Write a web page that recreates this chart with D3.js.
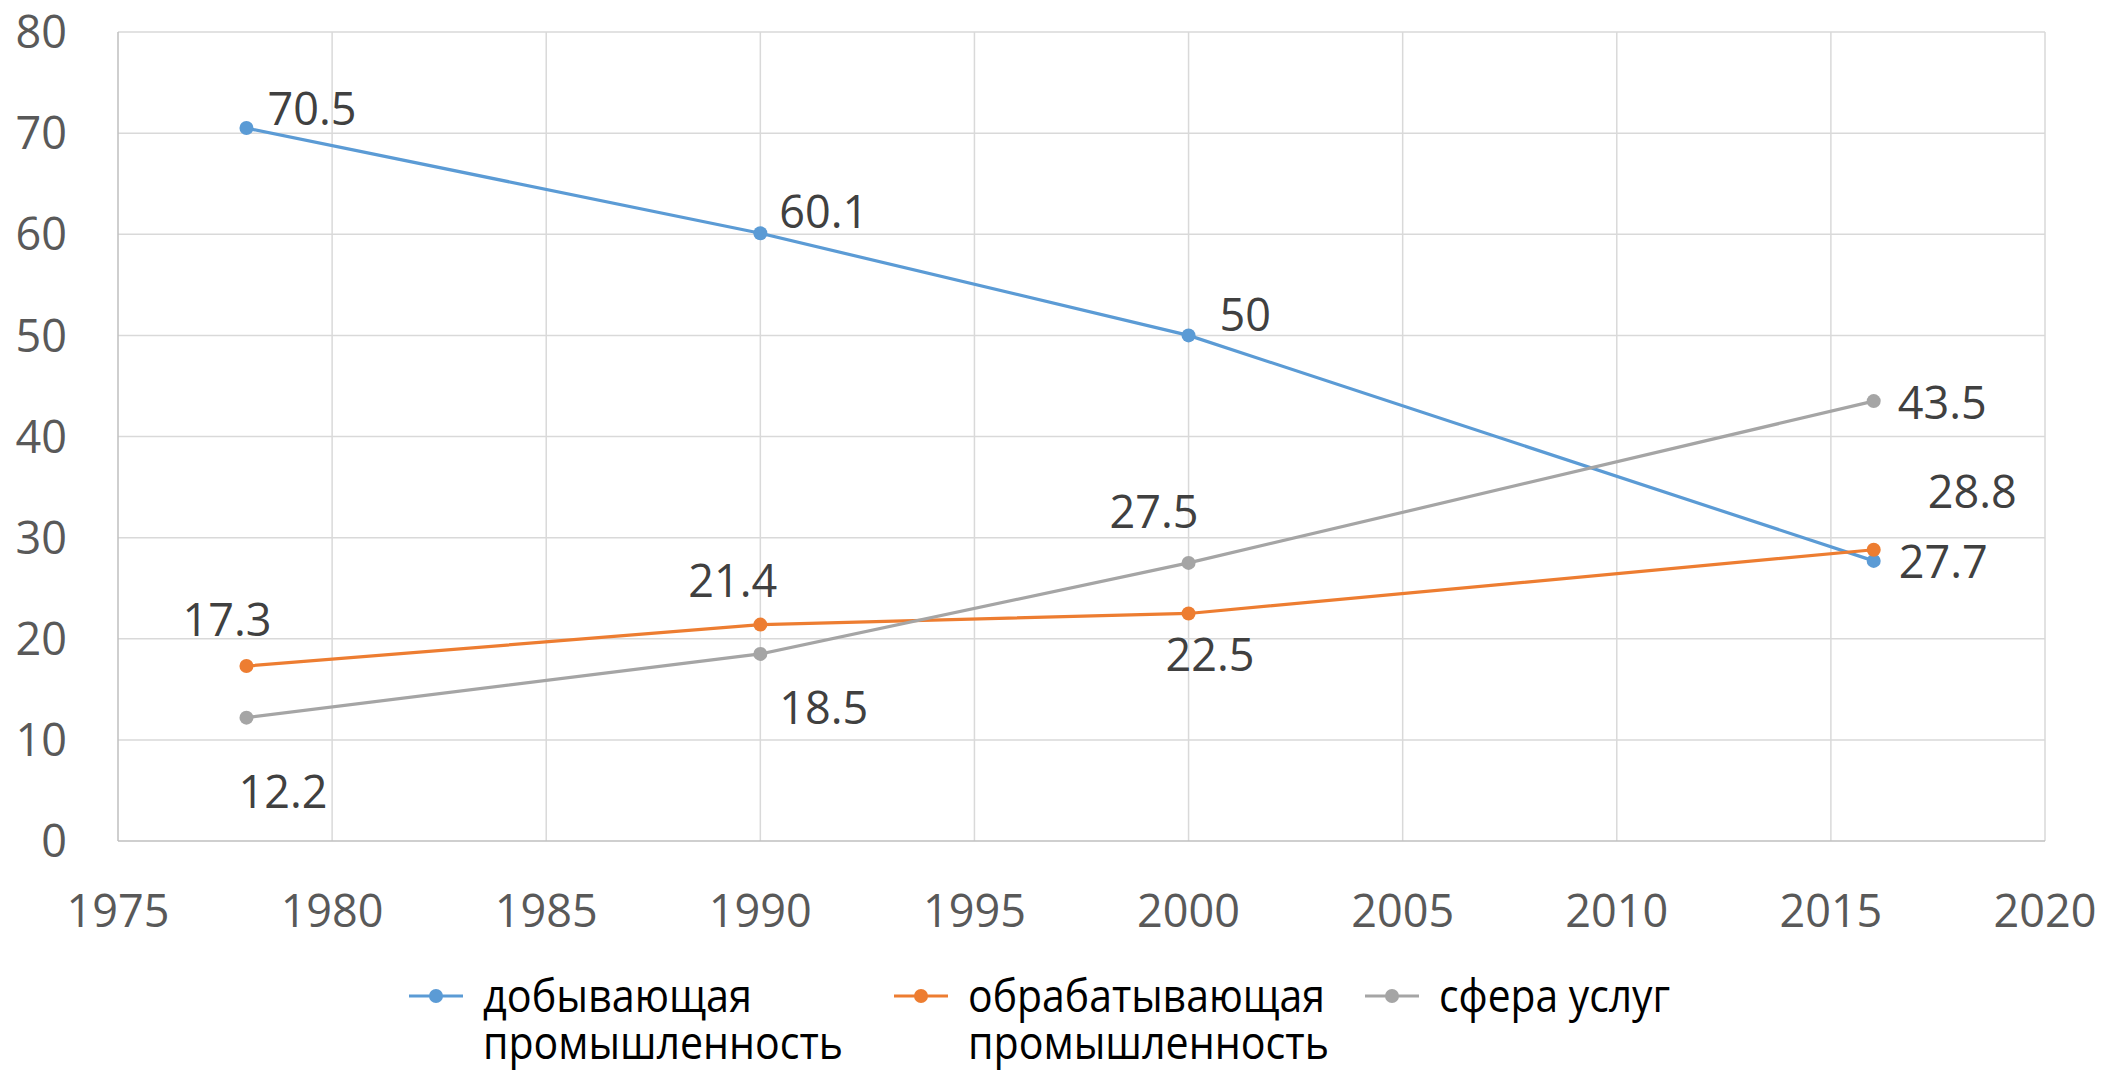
<!DOCTYPE html>
<html><head><meta charset="utf-8">
<script src="https://cdn.jsdelivr.net/npm/d3@7"></script>
<style>
html,body{margin:0;padding:0;background:#fff;}
svg{display:block;}
text{font-family:"Open Sans","Noto Sans",sans-serif;}
</style></head>
<body>
<svg id="chart" width="2107" height="1072"></svg>
<script>
// ---- data ----
const years = [1978, 1990, 2000, 2016];
const seriesNames = ["добывающая промышленность", "обрабатывающая промышленность", "сфера услуг"];
const extractive = [70.5, 60.1, 50, 27.7];
const manufacturing = [17.3, 21.4, 22.5, 28.8];
const services = [12.2, 18.5, 27.5, 43.5];
const xTicks = [1975, 1980, 1985, 1990, 1995, 2000, 2005, 2010, 2015, 2020];
const yTicks = [0, 10, 20, 30, 40, 50, 60, 70, 80];
const legendLines = [["добывающая", "промышленность"], ["обрабатывающая", "промышленность"], ["сфера услуг"]];

// ---- layout / style (kept separate from data) ----
const colors = ["#5B9BD5", "#ED7D31", "#A5A5A5"];
// label offsets relative to point: [dx (left edge), dy (baseline)]
const labelOffsets = [
  [[21, -3], [19, -5], [31, -4], [25, 17]],
  [[-64, -30], [-72, -28], [-23, 58], [54, -42]],
  [[-8, 90], [19, 70], [-79, -35], [24, 18]]
];
const legendX = [409, 894, 1365];
const legendTextWidths = [[269, 360], [357, 361], [231]];

(function () {
const svg = d3.select("#chart");
const pLeft = 118, pRight = 2045, pTop = 32, pBottom = 841;
const x = d3.scaleLinear().domain([1975, 2020]).range([pLeft, pRight]);
const y = d3.scaleLinear().domain([0, 80]).range([pBottom, pTop]);

// gridlines
svg.append("g").selectAll("line").data(yTicks.filter(d => d > 0)).join("line")
  .attr("x1", pLeft).attr("x2", pRight).attr("y1", d => y(d)).attr("y2", d => y(d))
  .attr("stroke", "#d9d9d9").attr("stroke-width", 1.5);
svg.append("g").selectAll("line").data(xTicks.filter(d => d > 1975)).join("line")
  .attr("x1", d => x(d)).attr("x2", d => x(d)).attr("y1", pTop).attr("y2", pBottom)
  .attr("stroke", "#d9d9d9").attr("stroke-width", 1.5);
// axes lines
svg.append("line").attr("x1", pLeft).attr("x2", pRight).attr("y1", pBottom).attr("y2", pBottom)
  .attr("stroke", "#bfbfbf").attr("stroke-width", 1.5);
svg.append("line").attr("x1", pLeft).attr("x2", pLeft).attr("y1", pTop).attr("y2", pBottom)
  .attr("stroke", "#bfbfbf").attr("stroke-width", 1.5);

// tick labels
svg.append("g").selectAll("text").data(yTicks).join("text")
  .attr("x", 67).attr("y", d => y(d)).attr("dy", "0.36em")
  .attr("text-anchor", "end").attr("font-size", 45).attr("fill", "#595959")
  .text(d => d);
svg.append("g").selectAll("text").data(xTicks).join("text")
  .attr("x", d => x(d)).attr("y", 927)
  .attr("text-anchor", "middle").attr("font-size", 45).attr("fill", "#595959")
  .text(d => d);

const allSeries = [extractive, manufacturing, services];
const line = d3.line().x(d => x(d[0])).y(d => y(d[1]));

allSeries.forEach((vals, i) => {
  const pts = years.map((yr, j) => [yr, vals[j]]);
  const g = svg.append("g");
  g.append("path").attr("d", line(pts)).attr("fill", "none")
    .attr("stroke", colors[i]).attr("stroke-width", 3.2).attr("stroke-linecap", "round");
  g.selectAll("circle").data(pts).join("circle")
    .attr("cx", d => x(d[0])).attr("cy", d => y(d[1])).attr("r", 7).attr("fill", colors[i]);
});
allSeries.forEach((vals, i) => {
  const pts = years.map((yr, j) => [yr, vals[j]]);
  svg.append("g").selectAll("text").data(pts).join("text")
    .attr("x", (d, j) => x(d[0]) + labelOffsets[i][j][0])
    .attr("y", (d, j) => y(d[1]) + labelOffsets[i][j][1])
    .attr("font-size", 45).attr("fill", "#404040")
    .text(d => d[1]);
});

// legend
legendLines.forEach((lines, i) => {
  const g = svg.append("g");
  const lx = legendX[i];
  g.append("line").attr("x1", lx).attr("x2", lx + 54).attr("y1", 996).attr("y2", 996)
    .attr("stroke", colors[i]).attr("stroke-width", 3.2);
  g.append("circle").attr("cx", lx + 27).attr("cy", 996).attr("r", 7).attr("fill", colors[i]);
  lines.forEach((t, k) => {
    g.append("text").attr("x", lx + 74).attr("y", 1012 + k * 47)
      .attr("font-size", 46).attr("fill", "#000")
      .attr("textLength", legendTextWidths[i][k]).attr("lengthAdjust", "spacingAndGlyphs")
      .text(t);
  });
});
})();
</script>
</body></html>
